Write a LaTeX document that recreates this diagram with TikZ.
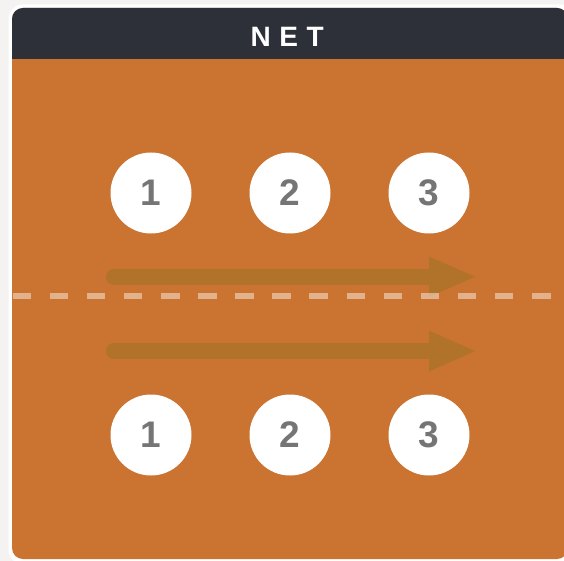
\documentclass[tikz,border=0pt]{standalone}
\usepackage{fontspec}
\setmainfont{Liberation Sans}
\definecolor{bgray}{HTML}{F4F3F1}
\definecolor{hdark}{HTML}{2D3039}
\definecolor{corange}{HTML}{CB7330}
\definecolor{arrowbrown}{HTML}{B07329}
\definecolor{numgray}{HTML}{757575}
\tikzset{
  numcircle/.style={circle, fill=white, minimum size=81pt, inner sep=0pt,
    text=numgray, font=\fontsize{37}{37}\selectfont\bfseries},
  arrowshaft/.style={line width=16pt, line cap=round, draw=arrowbrown},
  arrowhead/.style={fill=arrowbrown},
  divider/.style={line width=6pt, draw=white, draw opacity=0.45, dash pattern=on 18.5pt off 18.6pt},
}
\begin{document}
\begin{tikzpicture}[x=1pt,y=-1pt]
\useasboundingbox (0,0) rectangle (564,561);
\clip (0,0) rectangle (564,561);
\fill[bgray] (0,0) rectangle (564,561);
% white rim of card
\fill[white, rounded corners=14pt] (8.5,4.5) rectangle (575,564);
% card body
\fill[corange, rounded corners=11pt] (12,8) rectangle (568,559);
% header
\fill[hdark, rounded corners=11pt] (12,8) rectangle (568,40);
\fill[hdark] (12,30) rectangle (568,59);
\node[text=white, font=\fontsize{28}{28}\selectfont\bfseries] (title) at (287.2,37.3) {N\kern8.5pt E\kern8.5pt T};
% circles
\node[numcircle] (u1) at (151,193) {1};
\node[numcircle] (u2) at (290,193) {2};
\node[numcircle] (u3) at (429,193) {3};
\node[numcircle] (l1) at (151,435) {1};
\node[numcircle] (l2) at (290,435) {2};
\node[numcircle] (l3) at (429,435) {3};
% arrows
\coordinate (a1s) at (114,277);
\coordinate (a1e) at (430,277);
\draw[arrowshaft] (a1s) -- (a1e);
\fill[arrowhead] (429,256.5) -- (475,276.7) -- (429,297) -- cycle;
\coordinate (a2s) at (114,351);
\coordinate (a2e) at (430,351);
\draw[arrowshaft] (a2s) -- (a2e);
\fill[arrowhead] (429,330.7) -- (475,351) -- (429,371.5) -- cycle;
% dashed divider
\coordinate (d1) at (12.6,295.5);
\coordinate (d2) at (550.5,295.5);
\draw[divider] (d1) -- (d2);
\end{tikzpicture}
\end{document}
